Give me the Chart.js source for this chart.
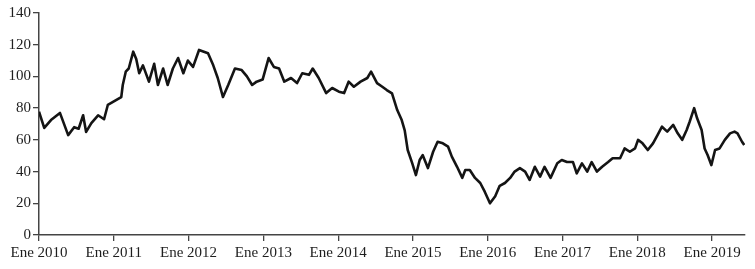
<!DOCTYPE html>
<html>
<head>
<meta charset="utf-8">
<script src="https://cdn.jsdelivr.net/npm/chart.js@4/dist/chart.umd.min.js"></script>
<style>
  html, body { margin:0; padding:0; background:#fff; }
  #wrap { width:755px; height:269px; position:relative; }
</style>
</head>
<body>
<div id="wrap"><canvas id="precioChart"></canvas></div>
<script>
// fechas en años decimales, precios en dolares por barril
var fechas = [
  2010.00, 2010.07, 2010.16, 2010.28, 2010.39, 2010.47, 2010.53, 2010.59, 2010.63, 2010.70,
  2010.79, 2010.87, 2010.92, 2011.03, 2011.10, 2011.12, 2011.16, 2011.20, 2011.26, 2011.30,
  2011.34, 2011.39, 2011.47, 2011.54, 2011.59, 2011.66, 2011.72, 2011.79, 2011.86, 2011.93,
  2011.99, 2012.06, 2012.14, 2012.26, 2012.33, 2012.39, 2012.46, 2012.53, 2012.62, 2012.71,
  2012.78, 2012.85, 2012.91, 2012.99, 2013.07, 2013.14, 2013.21, 2013.28, 2013.37, 2013.45,
  2013.52, 2013.61, 2013.66, 2013.74, 2013.84, 2013.92, 2014.01, 2014.08, 2014.14, 2014.21,
  2014.30, 2014.39, 2014.44, 2014.52, 2014.59, 2014.65, 2014.72, 2014.79, 2014.85, 2014.89,
  2014.93, 2014.99, 2015.04, 2015.09, 2015.13, 2015.20, 2015.27, 2015.33, 2015.40, 2015.47,
  2015.52, 2015.59, 2015.66, 2015.70, 2015.76, 2015.83, 2015.90, 2015.96, 2016.03, 2016.10,
  2016.16, 2016.23, 2016.30, 2016.36, 2016.43, 2016.50, 2016.56, 2016.63, 2016.70, 2016.76,
  2016.84, 2016.93, 2016.99, 2017.06, 2017.14, 2017.19, 2017.26, 2017.33, 2017.39, 2017.46,
  2017.53, 2017.61, 2017.67, 2017.74, 2017.77, 2017.83, 2017.90, 2017.97, 2018.01, 2018.07,
  2018.14, 2018.21, 2018.27, 2018.33, 2018.40, 2018.48, 2018.54, 2018.60, 2018.66, 2018.70,
  2018.76, 2018.80, 2018.86, 2018.90, 2018.94, 2018.99, 2019.04, 2019.10, 2019.17, 2019.24,
  2019.30, 2019.34, 2019.40, 2019.43
];
var precios = [
  77.8, 67.5, 72.5, 77.0, 63.0, 68.0, 67.0, 75.5, 65.0, 70.6,
  75.5, 73.0, 82.0, 85.0, 87.0, 94.6, 103.0, 105.0, 115.6, 111.0,
  102.0, 107.0, 96.7, 108.0, 94.6, 105.0, 94.6, 105.0, 111.6, 102.0,
  110.0, 106.0, 116.7, 114.6, 107.0, 99.0, 87.0, 94.6, 105.0, 104.0,
  100.0, 94.6, 96.7, 98.0, 111.6, 106.0, 105.0, 96.7, 99.0, 95.8,
  102.0, 101.0, 105.0, 99.0, 89.5, 92.7, 90.4, 89.5, 96.7, 93.5,
  96.7, 99.0, 103.0, 95.8, 93.5, 91.4, 89.3, 78.8, 72.5, 66.0,
  53.6, 45.3, 37.8, 47.3, 50.4, 42.2, 52.5, 58.8, 57.8, 55.7,
  49.4, 43.0, 36.0, 41.0, 41.0, 36.0, 32.8, 27.3, 20.0, 24.5,
  31.0, 32.8, 36.0, 40.0, 42.2, 40.0, 34.7, 43.0, 36.8, 43.0,
  36.0, 45.2, 47.3, 46.0, 46.0, 38.9, 45.2, 40.0, 46.0, 40.0,
  43.0, 46.0, 48.4, 48.4, 48.4, 54.6, 52.5, 54.6, 60.0, 57.8,
  53.6, 57.8, 63.0, 68.3, 65.2, 69.4, 64.1, 60.0, 66.2, 71.4,
  80.0, 73.6, 66.2, 54.6, 50.4, 44.1, 53.6, 54.6, 60.0, 64.1,
  65.2, 64.1, 58.8, 56.7
];
var anioTicks = [2010, 2011, 2012, 2013, 2014, 2015, 2016, 2017, 2018, 2019];
var precioTicks = [0, 20, 40, 60, 80, 100, 120, 140];
var fechaInicio = 2010;
var fechaFin = 2019.44;

var puntos = [];
for (var i = 0; i < fechas.length; i++) {
  puntos.push({x: fechas[i], y: precios[i]});
}

var fuente = {family: "'Liberation Serif', 'DejaVu Serif', serif", size: 15};
var gris = '#1e1e1e';

var ctx = document.getElementById('precioChart').getContext('2d');
var chart = new Chart(ctx, {
  type: 'line',
  data: {
    datasets: [{
      data: puntos,
      borderColor: '#141414',
      borderWidth: 2.6,
      borderJoinStyle: 'round',
      pointRadius: 0,
      tension: 0,
      fill: false
    }]
  },
  options: {
    responsive: true,
    maintainAspectRatio: false,
    animation: false,
    layout: {padding: {top: 13, right: 10, left: 0, bottom: 0}},
    plugins: {legend: {display: false}, tooltip: {enabled: false}},
    scales: {
      x: {
        type: 'linear',
        min: fechaInicio,
        max: fechaFin,
        afterBuildTicks: function(s) {
          s.ticks = anioTicks.map(function(v) { return {value: v}; });
        },
        afterFit: function(s) { s.height = 34; },
        ticks: {
          color: gris,
          font: fuente,
          padding: 3,
          maxRotation: 0,
          autoSkip: false,
          callback: function(v) { return 'Ene ' + v; }
        },
        grid: {drawOnChartArea: false, tickLength: 6, color: '#444', lineWidth: 1.3},
        border: {display: true, color: '#444', width: 1.5}
      },
      y: {
        min: 0,
        max: 140,
        afterBuildTicks: function(s) {
          s.ticks = precioTicks.map(function(v) { return {value: v}; });
        },
        afterFit: function(s) { s.width = 39; },
        ticks: {color: gris, font: fuente, padding: 2},
        grid: {drawOnChartArea: false, tickLength: 6, color: '#444', lineWidth: 1.3},
        border: {display: true, color: '#444', width: 1.5}
      }
    }
  }
});
</script>
</body>
</html>
